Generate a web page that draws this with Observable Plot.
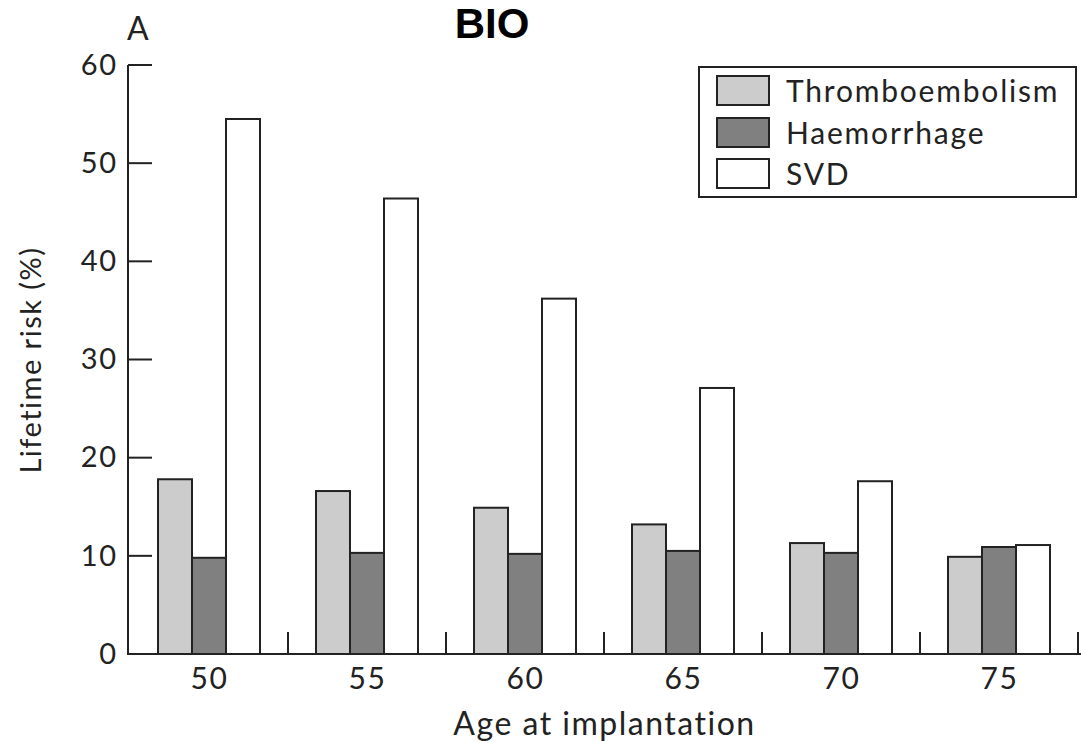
<!DOCTYPE html>
<html>
<head>
<meta charset="utf-8">
<script src="https://cdn.jsdelivr.net/npm/d3@7"></script>
<script src="https://cdn.jsdelivr.net/npm/@observablehq/plot@0.6"></script>
<style>
  html, body { margin: 0; padding: 0; background: #fff; }
  #wrap { position: relative; width: 1081px; height: 742px; font-family: Lato, sans-serif; color: #222; }
  #head { position: relative; height: 44px; }
  #panel { position: absolute; left: 127px; top: 12px; font-size: 32px; line-height: 32px; }
  #title { position: absolute; left: 492px; top: 0px; transform: translateX(-50%); font-family: "Liberation Sans", Arial, sans-serif; font-weight: bold; font-size: 42px; line-height: 47px; color: #000; }
  #legend { position: absolute; left: 698px; top: 66px; width: 375px; height: 128px; border: 2px solid #222; box-sizing: content-box; padding: 0; }
  .item { position: absolute; left: 16px; height: 30px; display: flex; align-items: center; font-size: 30px; letter-spacing: 1.8px; }
  .sw { width: 50px; height: 27px; border: 2px solid #222; margin-right: 16px; }
  svg { display: block; overflow: visible; }
</style>
</head>
<body>
<div id="wrap">
  <div id="head"><div id="panel">A</div><div id="title">BIO</div></div>
  <div id="chart"></div>
  <div id="legend"></div>
</div>
<script>
const ages = ["50", "55", "60", "65", "70", "75"];
const series = ["Thromboembolism", "Haemorrhage", "SVD"];
const thromboembolism = [17.8, 16.6, 14.9, 13.2, 11.3, 9.9];
const haemorrhage = [9.8, 10.3, 10.2, 10.5, 10.3, 10.9];
const svd = [54.5, 46.4, 36.2, 27.1, 17.6, 11.1];
const yTicks = [0, 10, 20, 30, 40, 50, 60];
const colors = ["#cccccc", "#808080", "#ffffff"];

const valuesBySeries = [thromboembolism, haemorrhage, svd];
const data = ages.flatMap((age, i) =>
  series.map((type, j) => ({age, type, value: valuesBySeries[j][i]}))
);

const ink = "#222";

const decor = Plot.frame({
  facet: "super",
  render(index, scales, values, dimensions) {
    const {fx, y} = scales;
    const g = d3.create("svg:g").attr("stroke", ink).attr("stroke-width", 2).attr("fill", "none");
    const x0 = fx.range()[0];
    g.append("line").attr("x1", x0).attr("x2", x0).attr("y1", y(yTicks[yTicks.length - 1])).attr("y2", y(0) + 1);
    for (const t of yTicks) {
      g.append("line").attr("x1", x0).attr("x2", x0 + 24).attr("y1", y(t)).attr("y2", y(t));
    }
    g.append("line").attr("x1", x0 - 1).attr("x2", dimensions.width).attr("y1", y(0)).attr("y2", y(0));
    for (const a of ages) {
      const xb = fx(a) + fx.bandwidth();
      g.append("line").attr("x1", xb).attr("x2", xb).attr("y1", y(0)).attr("y2", y(0) - 22);
    }
    return g.node();
  }
});

const chart = Plot.plot({
  width: 1081,
  height: 698,
  marginTop: 21,
  marginBottom: 88,
  marginLeft: 128,
  marginRight: 2,
  style: {fontFamily: "Lato, sans-serif", fontSize: "30px", color: ink, background: "white", letterSpacing: "1.5px"},
  fx: {domain: ages, padding: 0, label: "Age at implantation"},
  x: {domain: series, paddingInner: 0, paddingOuter: 0.8, axis: null},
  y: {domain: [0, 60], label: "Lifetime risk (%)"},
  color: {domain: series, range: colors},
  marks: [
    Plot.barY(data, {fx: "age", x: "type", y: "value", fill: "type", stroke: ink, strokeWidth: 2}),
    Plot.axisFx({anchor: "bottom", tickSize: 0, tickPadding: 13, label: null, fontSize: 30}),
    Plot.axisFx({anchor: "bottom", ticks: [], tickSize: 0, label: "Age at implantation", labelAnchor: "center", labelArrow: "none", labelOffset: 80, fontSize: 32, dx: 6}),
    Plot.axisY({anchor: "left", ticks: yTicks, tickSize: 0, tickPadding: 13, label: "Lifetime risk (%)", labelAnchor: "center", labelArrow: "none", labelOffset: 110, fontSize: 29}),
    decor
  ]
});
document.getElementById("chart").appendChild(chart);

const legend = document.getElementById("legend");
const rowTops = [7, 49, 90];
series.forEach((s, i) => {
  const item = document.createElement("div");
  item.className = "item";
  item.style.top = rowTops[i] + "px";
  const sw = document.createElement("div");
  sw.className = "sw";
  sw.style.background = colors[i];
  const label = document.createElement("span");
  label.textContent = s;
  item.appendChild(sw);
  item.appendChild(label);
  legend.appendChild(item);
});
</script>
</body>
</html>
